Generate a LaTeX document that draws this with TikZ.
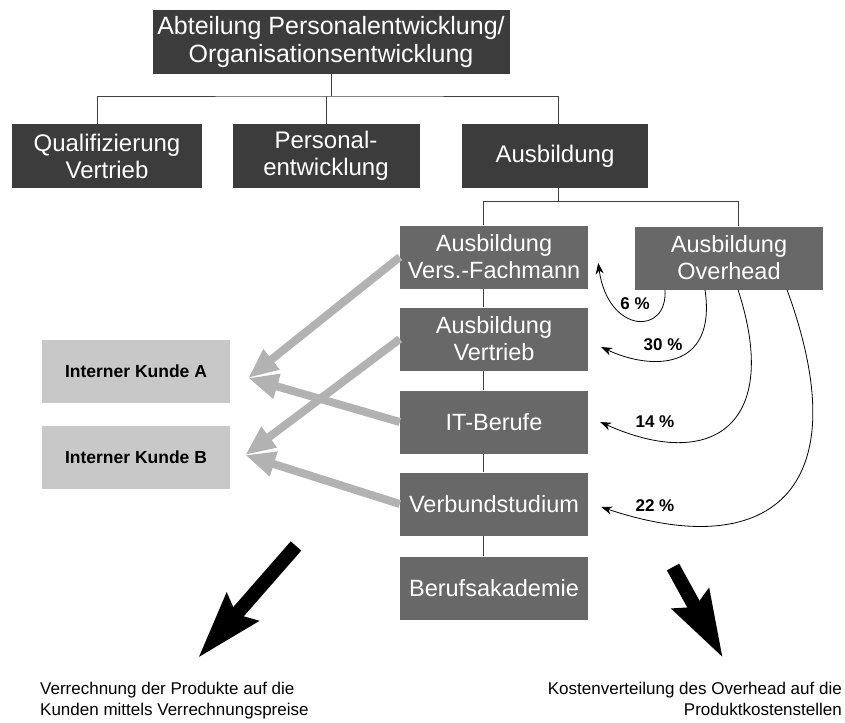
\documentclass[tikz,border=0pt]{standalone}
\usepackage{fontspec}
\setmainfont{Liberation Sans}
\usetikzlibrary{arrows.meta}
\definecolor{dunkel}{HTML}{3C3C3C}
\definecolor{mittel}{HTML}{686868}
\definecolor{hell}{HTML}{C8C8C8}
\definecolor{pfeil}{HTML}{B2B2B2}
\begin{document}
\begin{tikzpicture}[x=1pt,y=-1pt]
\tikzstyle{org}= [rectangle,fill=dunkel,text=white,align=center,inner sep=0pt,font=\fontsize{24}{27}\selectfont,minimum height=64pt]
\tikzstyle{prod}= [org,fill=mittel,minimum width=188pt,minimum height=63pt,font=\fontsize{23.5}{27}\selectfont]
\tikzstyle{kunde}= [rectangle,fill=hell,minimum width=188pt,minimum height=63pt,font=\fontsize{17.5}{20}\selectfont\bfseries]
\tikzstyle{pct}= [inner sep=0pt,font=\fontsize{17}{20}\selectfont\bfseries]
\tikzstyle{note}= [inner sep=0pt,font=\fontsize{17}{21}\selectfont]
\tikzstyle{tree}= [line width=0.8pt,black!75]
\tikzstyle{flow}= [pfeil,line width=8pt,-{Triangle[length=30pt,width=24pt]}]
\tikzstyle{share}= [line width=0.8pt,-{Stealth[length=11pt,width=8pt]}]
\tikzstyle{big}= [line width=14pt,-{Stealth[length=66pt,width=40pt,inset=8pt]}]
\useasboundingbox (0,0) rectangle (845,722);
\path
	(331,42) node[org,minimum width=357pt,font=\fontsize{25}{28}\selectfont] (abt) {Abteilung Personalentwicklung/\\Organisationsentwicklung}
	(107,156) node[org,minimum width=190pt] (qv) {Qualifizierung\\Vertrieb}
	(326,156) node[org,minimum width=187pt] (pe) {Personal-\\entwicklung}
	(555,156) node[org,minimum width=186pt] (aus) {Ausbildung}
	(494,257) node[prod] (vf) {Ausbildung\\Vers.-Fachmann}
	(729,258) node[prod] (oh) {Ausbildung\\Overhead}
	(494,339) node[prod] (vt) {Ausbildung\\Vertrieb}
	(494,422) node[prod] (it) {IT-Berufe}
	(494,504) node[prod] (vs) {Verbundstudium}
	(494,588) node[prod] (ba) {Berufsakademie}
	(136,371) node[kunde] (ka) {Interner Kunde A}
	(136,457) node[kunde] (kb) {Interner Kunde B}
	(635,304) node[pct] (p6) {6 \%}
	(663,345) node[pct] (p30) {30 \%}
	(655,422) node[pct] (p14) {14 \%}
	(655,506) node[pct] (p22) {22 \%}
	(40,682) node[note,anchor=north west,align=left] (links) {Verrechnung der Produkte auf die\\Kunden mittels Verrechnungspreise}
	(842,682) node[note,anchor=north east,align=right] (rechts) {Kostenverteilung des Overhead auf die\\Produktkostenstellen}
;
% Organigramm
\coordinate (j1) at (331,96);
\coordinate (j2) at (483,201);
\draw[tree] (abt) -- (j1);
\draw[tree] ([xshift=-10pt]qv.north) |- (j1) -| ([xshift=3pt]aus.north);
\draw[tree] (pe.north) -- (pe.north |- j1);
\draw[tree] ([xshift=3pt]aus.south) -- ([xshift=3pt]aus.south |- j2);
\draw[tree] (vf.north -| j2) |- (j2) -| ([xshift=9pt]oh.north);
\foreach \a/\b in {vf/vt,vt/it,it/vs,vs/ba}
	\draw[tree] (\a.south -| j2) -- (\b.north -| j2);
% Verrechnung an Kunden
\draw[flow] (vf.west) -- ([shift={(18pt,-7pt)}]ka.east);
\draw[flow] (it.west) -- ([shift={(18pt,-7pt)}]ka.east);
\draw[flow] (vt.west) -- ([shift={(15pt,2pt)}]kb.east);
\draw[flow] (vs.west) -- ([shift={(15pt,2pt)}]kb.east);
% Overhead-Umlage
\draw[share] ([xshift=-64pt]oh.south) .. controls (668,336) and (608,334) .. ([shift={(10pt,-6pt)}]vf.east);
\draw[share] ([xshift=-24pt]oh.south) .. controls (717,372) and (650,370) .. ([shift={(13pt,-8pt)}]vt.east);
\draw[share] ([xshift=9pt]oh.south) .. controls (782,425) and (712,472) .. ([xshift=12pt]it.east);
\draw[share] ([xshift=58pt]oh.south) .. controls (862,495) and (765,562) .. ([shift={(13pt,-3pt)}]vs.east);
% grosse Pfeile
\coordinate (lt) at (296,546);
\coordinate (lh) at (198,658);
\coordinate (rt) at (673,567);
\coordinate (rh) at (723,658);
\draw[big] (lt) -- (lh);
\draw[big] (rt) -- (rh);
\end{tikzpicture}
\end{document}
